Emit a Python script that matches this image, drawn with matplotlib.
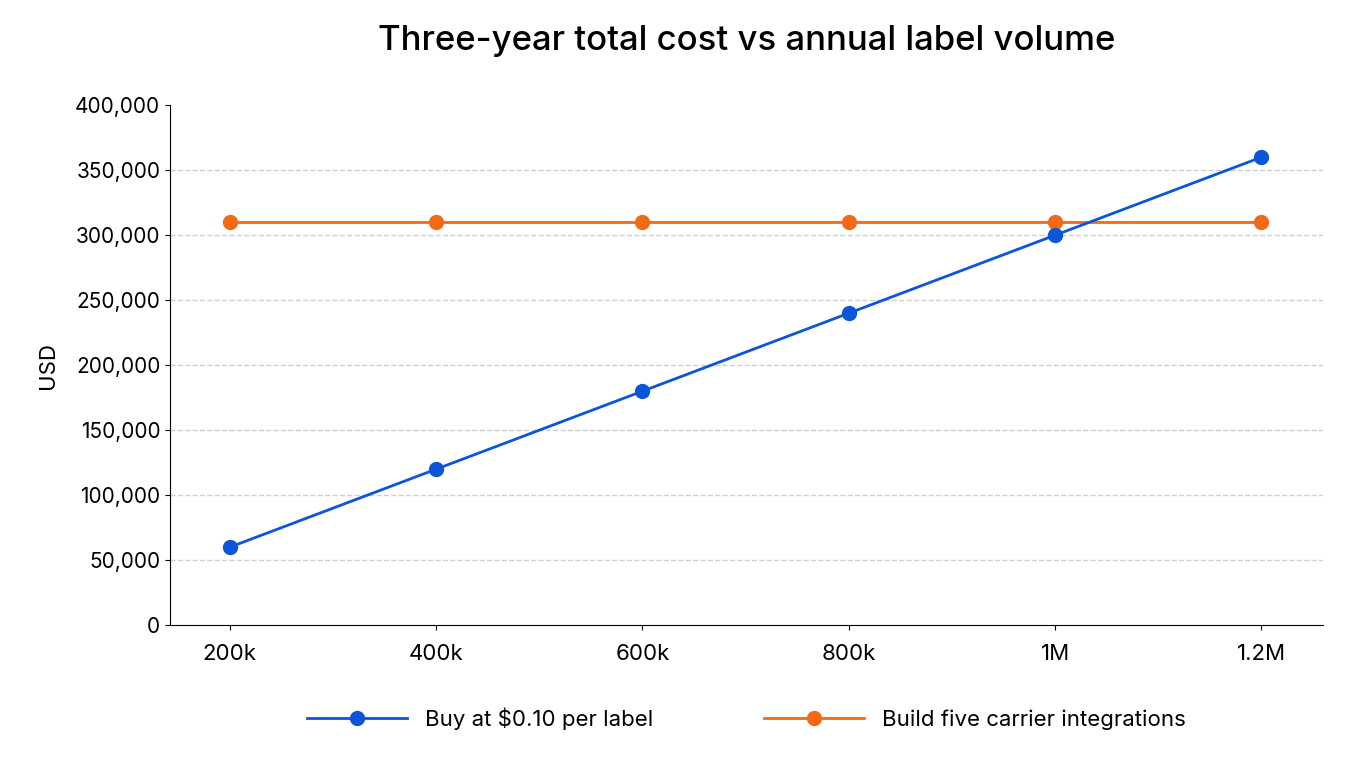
import matplotlib.pyplot as plt
from matplotlib.ticker import FuncFormatter

plt.rcParams['font.family'] = ['Inter', 'DejaVu Sans']

volumes = ["200k", "400k", "600k", "800k", "1M", "1.2M"]
buy_cost = [60000, 120000, 180000, 240000, 300000, 360000]
build_cost = [310000, 310000, 310000, 310000, 310000, 310000]
y_ticks = [0, 50000, 100000, 150000, 200000, 250000, 300000, 350000, 400000]

fig = plt.figure(figsize=(13.6, 7.68), dpi=100)
ax = fig.add_axes([0.125, 0.186, 0.848, 0.677])

x = list(range(len(volumes)))
ax.plot(x, build_cost, color="#f36a16", lw=2, marker="o", ms=10, label="Build five carrier integrations", zorder=3)
ax.plot(x, buy_cost, color="#0b55d9", lw=2, marker="o", ms=10, label="Buy at $0.10 per label", zorder=4)

ax.set_xlim(-0.29, 5.3)
ax.set_ylim(0, 400000)
ax.set_xticks(x)
ax.set_xticklabels(volumes, fontsize=16)
ax.set_yticks(y_ticks)
ax.yaxis.set_major_formatter(FuncFormatter(lambda v, p: f"{int(v):,}"))
ax.tick_params(axis="y", labelsize=15)
ax.tick_params(axis="x", pad=10)
for v in y_ticks[1:-1]:
    ax.axhline(v, color="#d0d0d0", lw=1, ls="--", zorder=1)
ax.spines["top"].set_visible(False)
ax.spines["right"].set_visible(False)
ax.set_ylabel("USD", fontsize=16, labelpad=12)
ax.set_title("Three-year total cost vs annual label volume", fontsize=25, fontweight="medium", pad=40)

handles, labels = ax.get_legend_handles_labels()
ax.legend(handles[::-1], labels[::-1], loc="upper center", bbox_to_anchor=(0.5, -0.12), ncol=2,
          frameon=False, fontsize=16, handlelength=4.5, columnspacing=5)

fig.savefig("out.png", dpi=100)
